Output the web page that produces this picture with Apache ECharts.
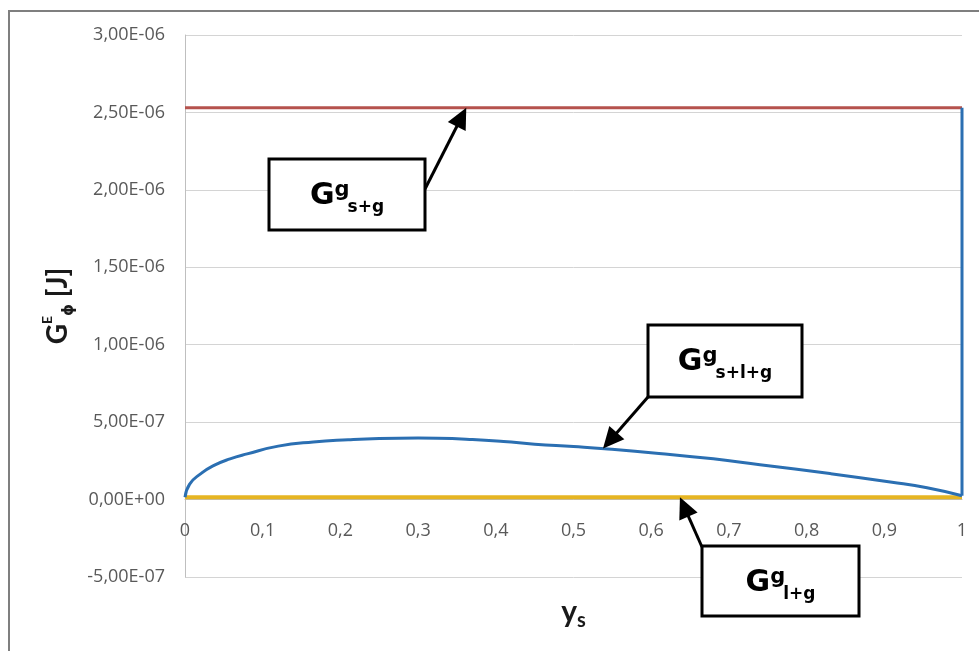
<!DOCTYPE html>
<html>
<head>
<meta charset="utf-8">
<script src="https://cdn.jsdelivr.net/npm/echarts@6/dist/echarts.min.js"></script>
<style>
  html, body { margin: 0; padding: 0; background: #fff; }
  #chart { width: 979px; height: 651px; }
</style>
</head>
<body>
<div id="chart"></div>
<script>
// Molar fraction of the solid phase (x axis)
const ysValues = [0, 0.006, 0.02, 0.036, 0.058, 0.08, 0.12, 0.165, 0.21, 0.25, 0.3, 0.325,
  0.37, 0.41, 0.45, 0.5, 0.54, 0.61, 0.68, 0.74, 0.83, 0.91, 0.955, 1.0];
// Gibbs energy of the solid + liquid + gas system [J]
const gSLG = [1.5e-8, 1.0e-7, 1.66e-7, 2.18e-7, 2.63e-7, 2.95e-7, 3.45e-7, 3.72e-7, 3.86e-7,
  3.94e-7, 3.97e-7, 3.96e-7, 3.88e-7, 3.75e-7, 3.58e-7, 3.42e-7, 3.28e-7, 2.98e-7, 2.63e-7,
  2.25e-7, 1.68e-7, 1.12e-7, 0.76e-7, 0.25e-7];
// Solid + gas and liquid + gas energies, constant over y_s
const ysEnds = [0, 1];
const gSG = [2.53e-6, 2.53e-6];
const gLG = [1.5e-8, 1.5e-8];
// Axis ranges
const xMin = 0, xMax = 1, xStep = 0.1;
const yMin = -5e-7, yMax = 3e-6, yStep = 5e-7;

const pairs = (xs, ys) => xs.map((x, i) => [x, ys[i]]);

function sciLabel(v) {
  if (Math.abs(v) < 1e-15) return '0,00E+00';
  const [m, e] = v.toExponential(2).split('e');
  const n = parseInt(e, 10);
  return m.replace('.', ',') + 'E' + (n < 0 ? '-' : '+') + String(Math.abs(n)).padStart(2, '0');
}

const W = 979, H = 651;
const GRID = { left: 185, right: 17, top: 35, bottom: 74 };
// the horizontal axis crosses the vertical one at G = 0
const plotH = H - GRID.top - GRID.bottom;
const zeroOffset = -plotH * (0 - yMin) / (yMax - yMin);

const chart = echarts.init(document.getElementById('chart'), null, { renderer: 'canvas' });

const tickFont = { color: '#595959', fontFamily: 'Open Sans', fontSize: 18 };

const option = {
  backgroundColor: '#ffffff',
  animation: false,
  grid: Object.assign({ containLabel: false, outerBoundsMode: 'none' }, GRID),
  xAxis: {
    type: 'value',
    min: xMin, max: xMax, interval: xStep,
    position: 'bottom',
    offset: zeroOffset,
    axisLine: { show: true, onZero: false, lineStyle: { color: '#bfbfbf' } },
    axisTick: { show: false },
    splitLine: { show: false },
    axisLabel: Object.assign({
      margin: 22,
      formatter: v => String(Math.round(v * 10) / 10).replace('.', ',')
    }, tickFont),
    name: '{y|y}{s|s}',
    nameLocation: 'middle',
    nameGap: 95,
    nameTextStyle: {
      rich: {
        y: { fontFamily: 'Lato', fontWeight: 'bold', fontSize: 30, color: '#1a1a1a', lineHeight: 36, verticalAlign: 'middle' },
        s: { fontFamily: 'Lato', fontWeight: 'bold', fontSize: 20, color: '#1a1a1a', lineHeight: 20, verticalAlign: 'bottom' }
      }
    }
  },
  yAxis: {
    type: 'value',
    min: yMin, max: yMax, interval: yStep,
    axisLine: { show: true, onZero: false, lineStyle: { color: '#bfbfbf' } },
    axisTick: { show: false },
    splitLine: { lineStyle: { color: '#d4d4d4', width: 1 } },
    axisLabel: Object.assign({ margin: 20, formatter: sciLabel }, tickFont),
    name: '{g|G}{e|E}{p|ϕ}{g| [J]}',
    nameLocation: 'middle',
    nameRotate: 90,
    nameGap: 107,
    nameTextStyle: {
      rich: {
        g: { fontFamily: 'Lato', fontWeight: 'bold', fontSize: 28, color: '#1a1a1a', lineHeight: 36, verticalAlign: 'middle' },
        e: { fontFamily: 'Lato', fontWeight: 'bold', fontSize: 14, color: '#1a1a1a', lineHeight: 24, verticalAlign: 'top' },
        p: { fontFamily: 'DejaVu Sans', fontWeight: 'bold', fontSize: 15, color: '#1a1a1a', lineHeight: 11, verticalAlign: 'bottom' }
      }
    }
  },
  series: [
    {
      name: 'G s+g', type: 'line', data: pairs(ysEnds, gSG),
      symbol: 'none', lineStyle: { color: '#b5524d', width: 3 }, z: 2
    },
    {
      name: 'G l+g', type: 'line', data: pairs(ysEnds, gLG),
      symbol: 'none', lineStyle: { color: '#e6b522', width: 4 }, z: 3
    },
    {
      name: 'G s+l+g', type: 'line', data: pairs(ysValues, gSLG),
      symbol: 'none', smooth: 0.5, lineStyle: { color: '#2b6fb2', width: 3 }, z: 4
    },
    {
      name: 'G s+l+g (y_s = 1)', type: 'line',
      data: [[ysValues[ysValues.length - 1], gSLG[gSLG.length - 1]], [ysEnds[1], gSG[1]]],
      symbol: 'none', lineStyle: { color: '#2b6fb2', width: 3 }, z: 4
    }
  ]
};

chart.setOption(option);

// Callout boxes with arrows pointing at the curves
const callouts = [
  { box: [269, 159, 156, 71], from: [425, 189], target: [0.362, gSG[0]], sub: 's+g' },
  { box: [648, 325, 154, 72], from: [648, 397], target: [0.538, 3.3e-7], sub: 's+l+g' },
  { box: [702, 546, 157, 70], from: [702, 547], target: [0.637, gLG[0]], sub: 'l+g' }
];

const measureCtx = document.createElement('canvas').getContext('2d');
function textWidth(str, size) {
  measureCtx.font = 'bold ' + size + 'px "DejaVu Sans"';
  return measureCtx.measureText(str).width;
}

function arrow(from, tip) {
  const dx = tip[0] - from[0], dy = tip[1] - from[1];
  const len = Math.hypot(dx, dy);
  const ux = dx / len, uy = dy / len;
  const L = 21, HW = 10;
  const bx = tip[0] - ux * L, by = tip[1] - uy * L;
  return [
    { type: 'line', shape: { x1: from[0], y1: from[1], x2: bx + ux * 2, y2: by + uy * 2 },
      style: { stroke: '#000', lineWidth: 3 }, z: 100 },
    { type: 'polygon', shape: { points: [tip, [bx - uy * HW, by + ux * HW], [bx + uy * HW, by - ux * HW]] },
      style: { fill: '#000' }, z: 100 }
  ];
}

const graphics = [
  { type: 'rect', shape: { x: 9, y: 11, width: 1000, height: 700 },
    style: { fill: 'none', stroke: '#7f7f7f', lineWidth: 2 }, z: 90, silent: true }
];

const SIZE_G = 30, SIZE_SUP = 21, SIZE_SUB = 17;
callouts.forEach(c => {
  const tip = chart.convertToPixel({ xAxisIndex: 0, yAxisIndex: 0 }, c.target);
  graphics.push(...arrow(c.from, tip));
  const [bx, by, bw, bh] = c.box;
  graphics.push({
    type: 'rect', shape: { x: bx, y: by, width: bw, height: bh },
    style: { fill: '#fff', stroke: '#000', lineWidth: 3 }, z: 101
  });
  const wG = textWidth('G', SIZE_G), wSup = textWidth('g', SIZE_SUP), wSub = textWidth(c.sub, SIZE_SUB);
  const total = wG + wSup + wSub - 2;
  let x = bx + bw / 2 - total / 2;
  const parts = [
    { t: 'G', s: SIZE_G, dy: 37, w: wG },
    { t: 'g', s: SIZE_SUP, dy: 32, w: wSup - 2 },
    { t: c.sub, s: SIZE_SUB, dy: 49, w: wSub }
  ];
  parts.forEach(p => {
    graphics.push({
      type: 'text', x: x, y: by + p.dy, z: 102,
      style: {
        text: p.t, fontFamily: 'DejaVu Sans', fontWeight: 'bold', fontSize: p.s,
        fill: '#000', align: 'left', verticalAlign: 'middle'
      }
    });
    x += p.w;
  });
});

chart.setOption({ graphic: graphics });
</script>
</body>
</html>
